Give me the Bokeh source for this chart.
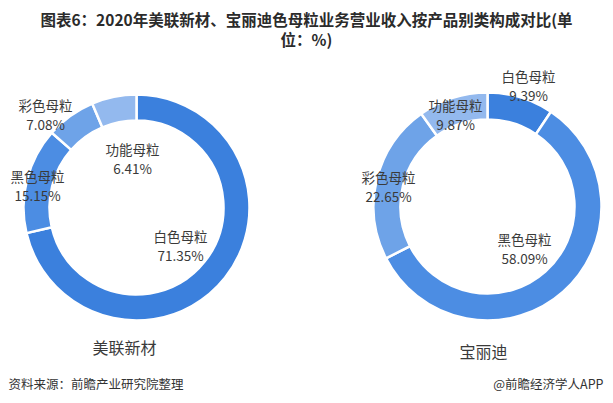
import math
from bokeh.plotting import figure
from bokeh.models import Range1d, ColumnDataSource
from bokeh.core.properties import value
from bokeh.embed import file_html
from bokeh.resources import INLINE

categories = ["白色母粒", "黑色母粒", "彩色母粒", "功能母粒"]
meilian_values = [71.35, 15.15, 7.08, 6.41]
baolidi_values = [9.39, 58.09, 22.65, 9.87]
company_names = ["美联新材", "宝丽迪"]
colors = ["#3b80dd", "#4c8de3", "#6ea3e8", "#93b9ee"]

title_lines = ["图表6：2020年美联新材、宝丽迪色母粒业务营业收入按产品别类构成对比(单", "位：%)"]
source_text = "资料来源：前瞻产业研究院整理"
brand_text = "@前瞻经济学人APP"

W, H = 605, 395
FONT = "Noto Sans CJK SC"

p = figure(width=W, height=H, output_backend="svg", toolbar_location=None,
           x_range=Range1d(0, W), y_range=Range1d(0, H), min_border=0)
p.axis.visible = False
p.grid.visible = False
p.outline_line_color = None
p.background_fill_color = "white"
p.border_fill_color = "white"


def py(y):  # target picture y -> data y
    return H - y


def px(x):
    return x


def donut(cx, cy, r_in, r_out, vals):
    total = sum(vals)
    starts, ends = [], []
    acc = 0.0
    for v in vals:
        starts.append(math.pi / 2 - 2 * math.pi * acc / total)
        acc += v
        ends.append(math.pi / 2 - 2 * math.pi * acc / total)
    src = ColumnDataSource(dict(x=[cx] * len(vals), y=[cy] * len(vals),
                                start=starts, end=ends, color=colors[:len(vals)]))
    p.annular_wedge(x="x", y="y", inner_radius=r_in, outer_radius=r_out,
                    start_angle="start", end_angle="end", direction="clock",
                    fill_color="color", line_color="white", line_width=2.5, source=src)


donut(px(136), py(207), 87, 113, meilian_values)
donut(px(487), py(206), 87, 114, baolidi_values)

# slice labels (positions in target pixels)
left_pos = [(180, 235), (37, 175), (45, 104), (132, 148)]
right_pos = [(528, 75), (524, 238), (388, 176), (455, 104)]


def labels(pos, vals):
    xs, ys, ts = [], [], []
    for (x, y), c, v in zip(pos, categories, vals):
        xs += [px(x), px(x)]
        ys += [py(y), py(y + 19)]
        ts += [c, f"{v:.2f}%"]
    p.text(x=xs, y=ys, text=ts, text_font=value(FONT), text_font_size="13.5px",
           text_color="#3a3a3a", text_align="center", text_baseline="middle")


labels(left_pos, meilian_values)
labels(right_pos, baolidi_values)

# company captions
p.text(x=[px(124), px(483)], y=[py(346), py(350)], text=company_names,
       text_font=value(FONT), text_font_size="16px", text_color="#3a3a3a",
       text_align="center", text_baseline="middle")

# title
p.text(x=[px(306), px(306)], y=[py(18), py(38)], text=title_lines,
       text_font=value(FONT), text_font_size="15.5px", text_font_style="bold",
       text_color="#2b2b2b", text_align="center", text_baseline="middle")

# footer
p.text(x=[px(8)], y=[py(383)], text=[source_text], text_font=value(FONT),
       text_font_size="12.5px", text_color="#333333", text_align="left",
       text_baseline="middle")
p.text(x=[px(603)], y=[py(383)], text=[brand_text], text_font=value(FONT),
       text_font_size="12.5px", text_color="#333333", text_align="right",
       text_baseline="middle")

open("out.html", "w").write(file_html(p, INLINE))
